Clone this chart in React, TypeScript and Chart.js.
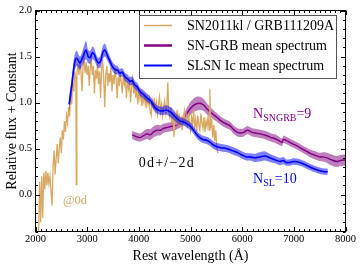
import React, { useEffect, useRef } from 'react';
import { Chart, registerables } from 'chart.js';
Chart.register(...registerables);

const xTicks = [2000, 3000, 4000, 5000, 6000, 7000, 8000];
const yTicks = [0.0, 0.5, 1.0, 1.5, 2.0];

const tanWave = [
  2000, 2020, 2040, 2060, 2080, 2100, 2120, 2140, 2160, 2180, 2200, 2220, 2240, 2260, 2280, 2300, 2320, 2340, 2360, 2380,
  2400, 2420, 2440, 2460, 2480, 2500, 2520, 2540, 2560, 2580, 2600, 2620, 2640, 2660, 2680, 2700, 2720, 2740, 2760, 2780,
  2790, 2800, 2820, 2840, 2860, 2880, 2900, 2920, 2940, 2960, 2980, 3000, 3020, 3040, 3060, 3080, 3100, 3120, 3140, 3160,
  3180, 3200, 3220, 3240, 3260, 3280, 3300, 3320, 3340, 3360, 3380, 3400, 3420, 3440, 3460, 3480, 3500, 3520, 3540, 3560,
  3580, 3600, 3620, 3640, 3660, 3680, 3700, 3720, 3740, 3760, 3780, 3800, 3820, 3840, 3860, 3880, 3900, 3920, 3940, 3960,
  3980, 4000, 4020, 4040, 4060, 4080, 4100, 4120, 4140, 4160, 4180, 4200, 4220, 4240, 4260, 4280, 4300, 4320, 4340, 4360,
  4380, 4400, 4420, 4440, 4460, 4480, 4500, 4520, 4540, 4560, 4580, 4600, 4620, 4640, 4660, 4680, 4700, 4720, 4740, 4760,
  4780, 4800, 4820, 4840, 4860, 4880, 4900, 4920, 4940, 4960, 4980, 5000, 5020, 5040, 5060, 5080, 5100, 5120, 5140, 5160,
  5180, 5200, 5220, 5240, 5260, 5280, 5300, 5320, 5340, 5360, 5375, 5390, 5410, 5430, 5450, 5470, 5490, 5510, 5530,
];
const tanFlux = [
  -0.55, -0.48, -0.52, -0.42, 0.14, -0.30, 0.20, -0.25, 0.24, 0.06, 0.26, 0.10, 0.24, 0.12, 0.20, 0.03, -0.12, 0.30, 0.48, 0.22,
  0.40, 0.55, 0.34, 0.50, 0.62, 0.45, 0.70, 0.60, 0.80, 0.68, 0.86, 0.78, 0.95, 0.85, 1.10, 0.98, 1.22, 1.12, 1.34, 1.25,
  0.11, 1.30, 1.42, 1.30, 1.45, 1.34, 1.12, 1.40, 1.47, 1.32, 1.44, 1.30, 1.40, 1.18, 1.38, 1.46, 1.30, 1.40, 1.10, 1.35,
  1.26, 1.42, 1.20, 1.34, 1.05, 1.38, 1.44, 1.28, 0.95, 1.30, 1.40, 1.18, 1.32, 1.22, 1.38, 1.12, 1.30, 1.20, 1.38, 1.25,
  1.05, 1.28, 1.18, 1.32, 1.22, 1.10, 1.30, 1.20, 1.28, 1.05, 1.24, 1.15, 1.22, 1.00, 1.18, 1.26, 1.10, 1.20, 1.05, 1.16,
  0.98, 1.12, 1.04, 1.14, 0.96, 1.08, 1.00, 1.10, 0.94, 1.06, 0.98, 1.04, 0.90, 0.86, 1.02, 0.95, 1.05, 0.92, 1.00, 0.88,
  0.98, 1.06, 0.90, 0.98, 0.86, 0.96, 1.02, 0.88, 0.94, 1.22, 0.90, 0.84, 0.95, 0.78, 0.90, 0.63, 0.86, 0.80, 0.92, 0.76,
  0.88, 0.74, 0.85, 0.70, 0.82, 0.90, 0.75, 0.84, 0.72, 0.88, 0.78, 0.70, 0.84, 0.76, 0.92, 0.74, 0.82, 0.68, 0.86, 0.76,
  0.70, 0.88, 0.78, 0.72, 0.84, 0.68, 0.80, 0.74, 0.86, 0.70, 1.15, 0.72, 0.82, 0.62, 0.76, 0.58, 0.70, 0.50, 0.45,
];

const grbWave = [
  3870, 3950, 4020, 4090, 4160, 4220, 4280, 4350, 4420, 4480, 4550, 4620, 4700, 4780, 4850, 4920, 4990, 5060, 5130, 5200,
  5260, 5320, 5380, 5440, 5510, 5570, 5650, 5760, 5830, 5900, 5970, 6040, 6100, 6180, 6250, 6350, 6480, 6560, 6630, 6700,
  6770, 6800, 6850, 6950, 7060, 7150, 7250, 7310, 7400, 7500, 7560, 7640, 7720, 7830, 7900, 8000,
];
const grbFlux = [
  0.65, 0.63, 0.62, 0.64, 0.66, 0.65, 0.68, 0.70, 0.70, 0.72, 0.73, 0.74, 0.75, 0.77, 0.80, 0.87, 0.93, 0.97, 0.99, 0.99,
  0.97, 0.93, 0.90, 0.87, 0.84, 0.81, 0.78, 0.75, 0.71, 0.68, 0.67, 0.68, 0.70, 0.68, 0.67, 0.66, 0.64, 0.62, 0.61, 0.59,
  0.57, 0.60, 0.59, 0.56, 0.53, 0.50, 0.47, 0.45, 0.43, 0.41, 0.41, 0.40, 0.38, 0.36, 0.37, 0.38,
];
const grbErr = [
  0.045, 0.045, 0.045, 0.05, 0.055, 0.06, 0.06, 0.06, 0.055, 0.05, 0.05, 0.05, 0.05, 0.05, 0.055, 0.06, 0.07, 0.075, 0.075, 0.07,
  0.065, 0.06, 0.055, 0.05, 0.045, 0.045, 0.045, 0.045, 0.045, 0.045, 0.045, 0.045, 0.045, 0.045, 0.045, 0.045, 0.045, 0.045, 0.045, 0.045,
  0.04, 0.04, 0.04, 0.04, 0.04, 0.04, 0.04, 0.04, 0.045, 0.045, 0.05, 0.055, 0.06, 0.06, 0.06, 0.06,
];

const slWave = [
  2650, 2700, 2760, 2800, 2860, 2920, 2977, 3020, 3060, 3100, 3140, 3180, 3220, 3260, 3300, 3344, 3400, 3441, 3490, 3538,
  3590, 3634, 3680, 3731, 3780, 3828, 3870, 3924, 3970, 4021, 4090, 4156, 4210, 4273, 4320, 4369, 4420, 4466, 4530, 4601,
  4650, 4698, 4750, 4795, 4860, 4930, 5000, 5060, 5124, 5180, 5240, 5310, 5375, 5440, 5510, 5600, 5704, 5800, 5897, 6000,
  6080, 6148, 6250, 6342, 6440, 6535, 6630, 6728, 6800, 6850, 6922, 7000, 7115, 7200, 7309, 7400, 7502, 7580, 7657,
];
const slFlux = [
  0.98, 1.18, 1.44, 1.48, 1.43, 1.50, 1.57, 1.50, 1.49, 1.54, 1.52, 1.46, 1.43, 1.45, 1.54, 1.57, 1.50, 1.45, 1.39, 1.36,
  1.35, 1.32, 1.33, 1.28, 1.26, 1.23, 1.24, 1.19, 1.17, 1.12, 1.09, 1.05, 1.03, 0.98, 0.94, 0.92, 0.91, 0.91, 0.92, 0.90,
  0.88, 0.85, 0.82, 0.80, 0.79, 0.77, 0.74, 0.70, 0.65, 0.62, 0.60, 0.59, 0.57, 0.54, 0.52, 0.51, 0.50, 0.48, 0.46, 0.43,
  0.41, 0.41, 0.40, 0.41, 0.42, 0.40, 0.38, 0.36, 0.37, 0.35, 0.35, 0.36, 0.35, 0.33, 0.30, 0.28, 0.26, 0.25, 0.25,
];
const slErr = [
  0.08, 0.09, 0.09, 0.08, 0.07, 0.08, 0.10, 0.07, 0.07, 0.07, 0.065, 0.055, 0.055, 0.065, 0.07, 0.07, 0.055, 0.05, 0.05, 0.05,
  0.045, 0.045, 0.045, 0.045, 0.045, 0.045, 0.045, 0.045, 0.045, 0.045, 0.045, 0.045, 0.045, 0.045, 0.045, 0.045, 0.045, 0.045, 0.05, 0.055,
  0.055, 0.05, 0.045, 0.04, 0.04, 0.04, 0.04, 0.04, 0.04, 0.04, 0.04, 0.04, 0.04, 0.04, 0.04, 0.04, 0.04, 0.04, 0.04, 0.04,
  0.04, 0.04, 0.045, 0.05, 0.05, 0.045, 0.04, 0.04, 0.04, 0.035, 0.035, 0.035, 0.035, 0.035, 0.035, 0.035, 0.035, 0.035, 0.035,
];

const legendLabels = ['SN2011kl / GRB111209A', 'SN-GRB mean spectrum', 'SLSN Ic mean spectrum'];

const TAN = 'rgb(218,168,98)';
const PURPLE = 'rgb(128,0,128)';
const PURPLE_BAND = 'rgba(128,0,128,0.5)';
const BLUE = 'rgb(0,0,255)';
const BLUE_BAND = 'rgba(0,0,255,0.5)';
const SERIF = "'Liberation Serif', 'DejaVu Serif', serif";

function xy(w: number[], f: number[]) {
  return w.map((x, i) => ({ x, y: f[i] }));
}

export default function App() {
  const ref = useRef<HTMLCanvasElement | null>(null);
  useEffect(() => {
    document.body.style.margin = '0';
    const canvas = ref.current;
    if (!canvas) return;

    const overlay = {
      id: 'overlay',
      afterDraw(chart: any) {
        const { ctx, chartArea, scales } = chart;
        const { left, right, top, bottom } = chartArea;
        const xs = scales.x;
        const ys = scales.y;
        ctx.save();
        ctx.strokeStyle = '#000';
        ctx.lineWidth = 1;
        ctx.strokeRect(left, top, right - left, bottom - top);
        ctx.beginPath();
        for (let v = 2000; v <= 8000; v += 100) {
          const px = Math.round(xs.getPixelForValue(v)) + 0.5;
          const L = v % 1000 === 0 ? 4.5 : 2.5;
          ctx.moveTo(px, bottom); ctx.lineTo(px, bottom - L);
          ctx.moveTo(px, top); ctx.lineTo(px, top + L);
        }
        for (let k = -4; k <= 20; k++) {
          const v = k / 10;
          const py = Math.round(ys.getPixelForValue(v)) + 0.5;
          const L = k % 5 === 0 ? 4.5 : 2.5;
          ctx.moveTo(left, py); ctx.lineTo(left + L, py);
          ctx.moveTo(right, py); ctx.lineTo(right - L, py);
        }
        ctx.stroke();

        const bx = 139.5, by = 15.5, bw = 197, bh = 63;
        ctx.fillStyle = 'rgba(255,255,255,0.85)';
        ctx.fillRect(bx, by, bw, bh);
        ctx.strokeStyle = '#555';
        ctx.strokeRect(bx, by, bw, bh);
        const colors = [TAN, PURPLE, BLUE];
        const widths = [1.5, 2.5, 2];
        ctx.font = `14px ${SERIF}`;
        ctx.textBaseline = 'middle';
        ctx.textAlign = 'left';
        legendLabels.forEach((t, i) => {
          const ry = 25.5 + i * 20;
          ctx.strokeStyle = colors[i];
          ctx.lineWidth = widths[i];
          ctx.beginPath();
          ctx.moveTo(144, ry); ctx.lineTo(172, ry);
          ctx.stroke();
          ctx.fillStyle = '#000';
          ctx.fillText(t, 187, ry + 1);
        });

        ctx.font = `12.5px ${SERIF}`;
        ctx.fillStyle = TAN;
        ctx.fillText('@0d', xs.getPixelForValue(2530), ys.getPixelForValue(-0.065));
        ctx.font = `14px ${SERIF}`;
        ctx.fillStyle = '#000';
        (ctx as any).letterSpacing = '1.2px';
        ctx.fillText('0d+/\u22122d', xs.getPixelForValue(4000), ys.getPixelForValue(0.345));
        (ctx as any).letterSpacing = '0px';

        const drawN = (sub: string, rest: string, color: string, wx: number, fy: number) => {
          const x0 = xs.getPixelForValue(wx);
          const y0 = ys.getPixelForValue(fy);
          ctx.fillStyle = color;
          ctx.font = `14px ${SERIF}`;
          ctx.fillText('N', x0, y0);
          let w = ctx.measureText('N').width;
          ctx.font = `10px ${SERIF}`;
          ctx.fillText(sub, x0 + w, y0 + 3.5);
          w += ctx.measureText(sub).width;
          ctx.font = `14px ${SERIF}`;
          ctx.fillText(rest, x0 + w, y0);
        };
        drawN('SNGRB', '=9', PURPLE, 6210, 0.87);
        drawN('SL', '=10', BLUE, 6210, 0.165);
        ctx.restore();
      },
    };

    const chart = new Chart(canvas, {
      type: 'line',
      data: {
        datasets: [
          { data: xy(slWave, slFlux), borderColor: BLUE, borderWidth: 1.6, pointRadius: 0, fill: false, tension: 0.35 },
          { data: xy(slWave, slFlux.map((v, i) => v + slErr[i])), borderWidth: 0, borderColor: 'rgba(0,0,0,0)', pointRadius: 0, fill: false, tension: 0.35 },
          { data: xy(slWave, slFlux.map((v, i) => v - slErr[i])), borderWidth: 0, borderColor: 'rgba(0,0,0,0)', pointRadius: 0, fill: 1, backgroundColor: BLUE_BAND, tension: 0.35 },
          { data: xy(tanWave, tanFlux), borderColor: TAN, borderWidth: 1.3, pointRadius: 0, fill: false, tension: 0 },
          { data: xy(grbWave, grbFlux), borderColor: PURPLE, borderWidth: 1.4, pointRadius: 0, fill: false, tension: 0.35 },
          { data: xy(grbWave, grbFlux.map((v, i) => v + grbErr[i])), borderWidth: 0, borderColor: 'rgba(0,0,0,0)', pointRadius: 0, fill: false, tension: 0.35 },
          { data: xy(grbWave, grbFlux.map((v, i) => v - grbErr[i])), borderWidth: 0, borderColor: 'rgba(0,0,0,0)', pointRadius: 0, fill: 5, backgroundColor: PURPLE_BAND, tension: 0.35 },
        ] as any,
      },
      options: {
        animation: false,
        responsive: true,
        maintainAspectRatio: false,
        layout: { padding: { top: 10.5, right: 15.5, left: 0, bottom: 0 } },
        plugins: { legend: { display: false }, tooltip: { enabled: false } },
        scales: {
          x: {
            type: 'linear',
            min: 2000,
            max: 8000,
            afterFit: (s: any) => { s.height = 35.5; },
            afterBuildTicks: (s: any) => { s.ticks = xTicks.map((v) => ({ value: v })); },
            ticks: { font: { family: SERIF, size: 10.5 }, color: '#000', padding: 1, maxRotation: 0, callback: (v: any) => String(v) },
            grid: { display: false, drawTicks: false },
            border: { display: false },
            title: { display: true, text: 'Rest wavelength (Å)', font: { family: SERIF, size: 14 }, color: '#000', padding: { top: 0, bottom: 2.6 } },
          },
          y: {
            type: 'linear',
            min: -0.4,
            max: 2.0,
            afterFit: (s: any) => { s.width = 35.5; },
            afterBuildTicks: (s: any) => { s.ticks = yTicks.map((v) => ({ value: v })); },
            ticks: { font: { family: SERIF, size: 10.5 }, color: '#000', padding: 3.5, callback: (v: any) => Number(v).toFixed(1) },
            grid: { display: false, drawTicks: false },
            border: { display: false },
            title: { display: true, text: 'Relative flux + Constant', font: { family: SERIF, size: 14 }, color: '#000', padding: { top: 3.6, bottom: 0 } },
          },
        },
      },
      plugins: [overlay],
    } as any);
    return () => chart.destroy();
  }, []);

  return (
    <div style={{ width: 361, height: 267, position: 'relative' }}>
      <canvas ref={ref} />
    </div>
  );
}
